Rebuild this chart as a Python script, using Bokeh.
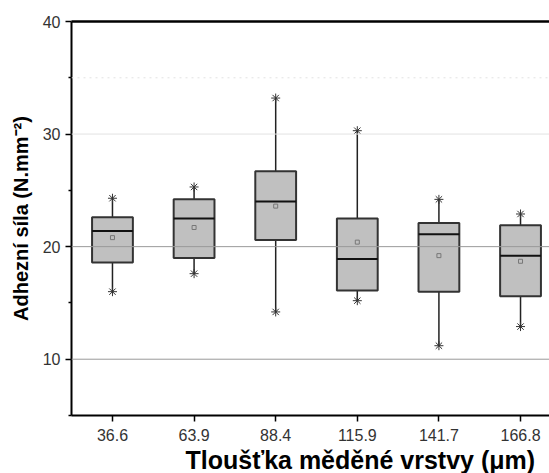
from bokeh.plotting import figure
from bokeh.models import FixedTicker, Span, LinearAxis, ColumnDataSource, Range1d, Title
from bokeh.embed import file_html
from bokeh.resources import INLINE

categories = ["36.6", "63.9", "88.4", "115.9", "141.7", "166.8"]
upper = [24.3, 25.3, 33.2, 30.3, 24.2, 22.9]
q3 = [22.6, 24.2, 26.7, 22.5, 22.1, 21.9]
median = [21.4, 22.5, 24.0, 18.9, 21.1, 19.2]
q1 = [18.6, 19.0, 20.6, 16.1, 16.0, 15.6]
lower = [16.0, 17.6, 14.2, 15.2, 11.2, 12.9]
mean = [20.8, 21.7, 23.6, 20.4, 19.2, 18.7]
x_title = "Tloušťka měděné vrstvy (μm)"
y_title = "Adhezní síla (N.mm⁻²)"

pos = list(range(1, len(categories) + 1))
src = ColumnDataSource(dict(x=pos, upper=upper, q3=q3, median=median, q1=q1,
                            lower=lower, mean=mean,
                            xl=[v - 0.25 for v in pos], xr=[v + 0.25 for v in pos]))

p = figure(width=549, height=473, output_backend="svg", toolbar_location=None,
           x_range=Range1d(0.498, 6.355), y_range=Range1d(5, 40),
           min_border_left=71, min_border_right=0, min_border_top=21, min_border_bottom=0)
p.outline_line_color = None
p.background_fill_color = "white"
p.xgrid.visible = False
p.ygrid.visible = False

for yv, col, dash in [(10, "#999999", "solid"), (20, "#999999", "solid"),
                      (30, "#e2e2e2", "solid"), (35, "#e2e2e2", "dotted")]:
    p.add_layout(Span(location=yv, dimension="width", line_color=col,
                      line_width=1, line_dash=dash))

p.segment(x0="x", y0="q3", x1="x", y1="upper", source=src, line_color="#222222", line_width=1.5)
p.segment(x0="x", y0="q1", x1="x", y1="lower", source=src, line_color="#222222", line_width=1.5)
p.vbar(x="x", width=0.5, top="q3", bottom="q1", source=src,
       fill_color="#c0c0c0", line_color="#333333", line_width=2)
p.segment(x0="xl", y0="median", x1="xr", y1="median", source=src,
          line_color="#111111", line_width=2)
p.scatter(x="x", y="upper", source=src, marker="asterisk", size=9, line_color="#333333", line_width=1)
p.scatter(x="x", y="lower", source=src, marker="asterisk", size=9, line_color="#333333", line_width=1)
p.scatter(x="x", y="mean", source=src, marker="square", size=4, fill_color=None,
          line_color="#777777", line_width=1)

font = "Liberation Sans"
xa = p.xaxis[0]
xa.ticker = FixedTicker(ticks=pos)
xa.major_label_overrides = {i: c for i, c in zip(pos, categories)}
ya = p.yaxis[0]
ya.ticker = FixedTicker(ticks=[10, 20, 30, 40], minor_ticks=[5, 15, 25, 35])
ya.axis_label = y_title
for ax in (xa, ya):
    ax.axis_line_width = 2
    ax.axis_line_color = "black"
    ax.major_tick_line_color = "black"
    ax.major_tick_line_width = 1.5
    ax.major_tick_out = 6
    ax.major_tick_in = 0
    ax.minor_tick_out = 3
    ax.minor_tick_in = 0
    ax.minor_tick_line_color = "black"
    ax.minor_tick_line_width = 1.5
    ax.major_label_text_font = font
    ax.major_label_text_font_size = "16px"
    ax.major_label_text_color = "#333333"
    ax.axis_label_text_font = font
    ax.axis_label_text_font_size = "20px"
    ax.axis_label_text_font_style = "bold"
    ax.axis_label_text_color = "black"
xa.minor_tick_line_color = None
xa.major_label_standoff = 7
ya.major_label_standoff = 5
ya.axis_label_standoff = 8

# x-axis title, placed as in the reference (to the right of the frame centre)
p.add_layout(Title(text=x_title, align="left", offset=114, standoff=0,
                   text_font=font, text_font_size="25px", text_font_style="bold",
                   text_color="black"), "below")

top = LinearAxis(ticker=FixedTicker(ticks=[]), axis_line_width=2.5, axis_line_color="black",
                 major_tick_line_color=None, minor_tick_line_color=None,
                 major_label_text_font_size="0px", major_label_standoff=0)
p.add_layout(top, "above")

open("out.html", "w").write(file_html(p, INLINE))
